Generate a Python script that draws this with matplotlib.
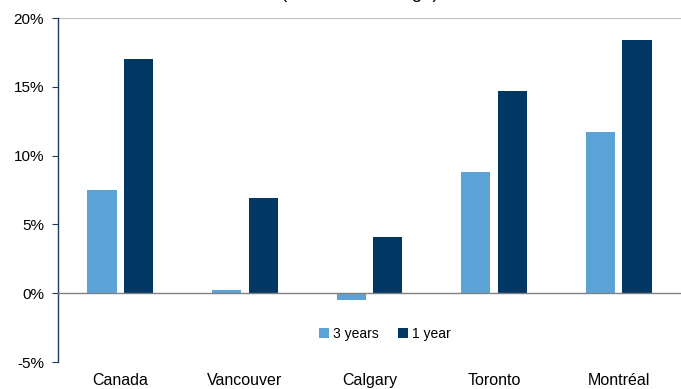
import matplotlib
matplotlib.use("Agg")
import matplotlib.pyplot as plt
from matplotlib.ticker import FuncFormatter
import numpy as np

plt.rcParams['font.family'] = ['Liberation Sans', 'DejaVu Sans']

cities = ["Canada", "Vancouver", "Calgary", "Toronto", "Montréal"]
three_years = [7.5, 0.2, -0.5, 8.8, 11.7]
one_year = [17.0, 6.9, 4.1, 14.7, 18.4]
series_labels = ["3 years", "1 year"]
yticks = [-5, 0, 5, 10, 15, 20]

light_blue = "#5BA3D6"
dark_blue = "#003764"

fig = plt.figure(figsize=(6.81, 3.89), dpi=100)
ax = fig.add_axes([58 / 681, 27 / 389, 623 / 681, 344 / 389])

x = np.arange(len(cities))
w = 0.235
off = 0.147
ax.bar(x - off, three_years, width=w, color=light_blue, label=series_labels[0], zorder=3)
ax.bar(x + off, one_year, width=w, color=dark_blue, label=series_labels[1], zorder=3)

ax.set_xlim(-0.5, len(cities) - 0.5)
ax.set_ylim(-5, 20)
ax.set_yticks(yticks)
ax.yaxis.set_major_formatter(FuncFormatter(lambda v, p: f"{v:.0f}%"))
ax.tick_params(axis='y', labelsize=11, length=4, color="#1F3B5C", pad=6)
ax.set_xticks(x)
ax.set_xticklabels(cities, fontsize=11.5)
ax.tick_params(axis='x', length=0, pad=8)

for side in ("right", "bottom", "top"):
    ax.spines[side].set_visible(False)
ax.spines["left"].set_color("#1F3B5C")
ax.spines["left"].set_linewidth(1.0)

ax.axhline(20, color="#BDBDBD", lw=1.5, zorder=1)
ax.axhline(0, color="#808080", lw=1.0, zorder=4)

ax.legend(loc="lower center", bbox_to_anchor=(0.525, 0.025), ncol=2, frameon=False,
          fontsize=10, handlelength=0.7, handleheight=0.7, handletextpad=0.3,
          columnspacing=1.4)

# chart subtitle sits at the very top edge of the figure
fig.text(0.529, 1.0 + 2.0 / 389, "(annual % change)", ha="center", va="baseline",
         fontsize=13.5)

fig.savefig("out.png", dpi=100)
